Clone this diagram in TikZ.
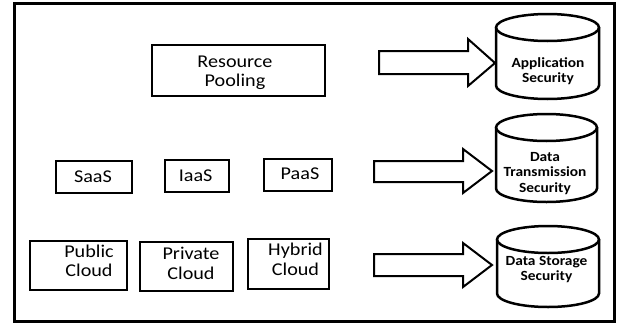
\documentclass[tikz,border=0pt]{standalone}
\usepackage{fontspec}
\setmainfont{Carlito}
\newfontfamily\boxfont[FakeStretch=1.12]{Carlito}
\newfontfamily\cylfont[FakeStretch=1.1]{Carlito}
\begin{document}
\begin{tikzpicture}[x=1pt,y=-1pt,
  box/.style={draw, line width=2pt, inner sep=0pt},
  lbl/.style={font=\boxfont\fontsize{18}{19.5}\selectfont, align=center, inner sep=0pt},
  cyltext/.style={font=\cylfont\bfseries\fontsize{14}{15.5}\selectfont, align=center, inner sep=0pt},
  blockarr/.style={draw, line width=2pt, line join=miter, fill=white},
  cylline/.style={draw, line width=2.5pt}]
\useasboundingbox (0,0) rectangle (617,324);
\draw[line width=3pt] (14.5,3.5) rectangle (614.5,321);

% left boxes
\node[box, minimum width=173, minimum height=51] (rp) at (238.8,70) {};
\node[lbl] (rpt) at (235,72.6) {Resource\\Pooling};

\node[box, minimum width=76, minimum height=32] (saas) at (93.5,176.5) {};
\node[lbl, anchor=base] (saast) at (93,182) {SaaS};
\node[box, minimum width=64, minimum height=32] (iaas) at (196.5,175.5) {};
\node[lbl, anchor=base] (iaast) at (195.6,181) {IaaS};
\node[box, minimum width=68, minimum height=32] (paas) at (297.5,174.5) {};
\node[lbl, anchor=base] (paast) at (300,179) {PaaS};

\node[box, minimum width=97, minimum height=49] (pub) at (78,265) {};
\node[lbl] (pubt) at (89,260.7) {Public\\Cloud};
\node[box, minimum width=93, minimum height=49] (pri) at (186,266) {};
\node[lbl] (prit) at (191,263.2) {Private\\Cloud};
\node[box, minimum width=81, minimum height=50] (hyb) at (288,263.5) {};
\node[lbl] (hybt) at (295.5,259.2) {Hybrid\\Cloud};

% cylinders
\draw[cylline] (496,27.5) -- (496,85.5) arc[start angle=180,end angle=0,x radius=51.5,y radius=13.5] -- (599,27.5);
\draw[cylline] (547.5,27.5) ellipse[x radius=51.5, y radius=13.5];
\node[cyltext] (c1) at (548,71.4) {Application\\Security};

\draw[cylline] (496,127.5) -- (496,188.5) arc[start angle=180,end angle=0,x radius=50.5,y radius=13.5] -- (597,127.5);
\draw[cylline] (546.5,127.5) ellipse[x radius=50.5, y radius=13.5];
\node[cyltext] (c2) at (545,173.2) {Data\\Transmission\\Security};

\draw[cylline] (497,239.5) -- (497,293.5) arc[start angle=180,end angle=0,x radius=51,y radius=13.5] -- (599,239.5);
\draw[cylline] (548,239.5) ellipse[x radius=51, y radius=13.5];
\node[cyltext] (c3) at (546.5,269.3) {Data Storage\\Security};

% block arrows
\coordinate (t1) at (495,63);
\coordinate (t2) at (492,171);
\coordinate (t3) at (492,265);
\draw[blockarr] (t1) -- ++(-27,-24) -- ++(0,12) -- ++(-89,0) -- ++(0,23) -- ++(89,0) -- ++(0,12) -- cycle;
\draw[blockarr] (t2) -- ++(-29,-22) -- ++(0,12) -- ++(-89,0) -- ++(0,21) -- ++(89,0) -- ++(0,11) -- cycle;
\draw[blockarr] (t3) -- ++(-29,-22) -- ++(0,11) -- ++(-89,0) -- ++(0,22) -- ++(89,0) -- ++(0,11) -- cycle;
\end{tikzpicture}
\end{document}
